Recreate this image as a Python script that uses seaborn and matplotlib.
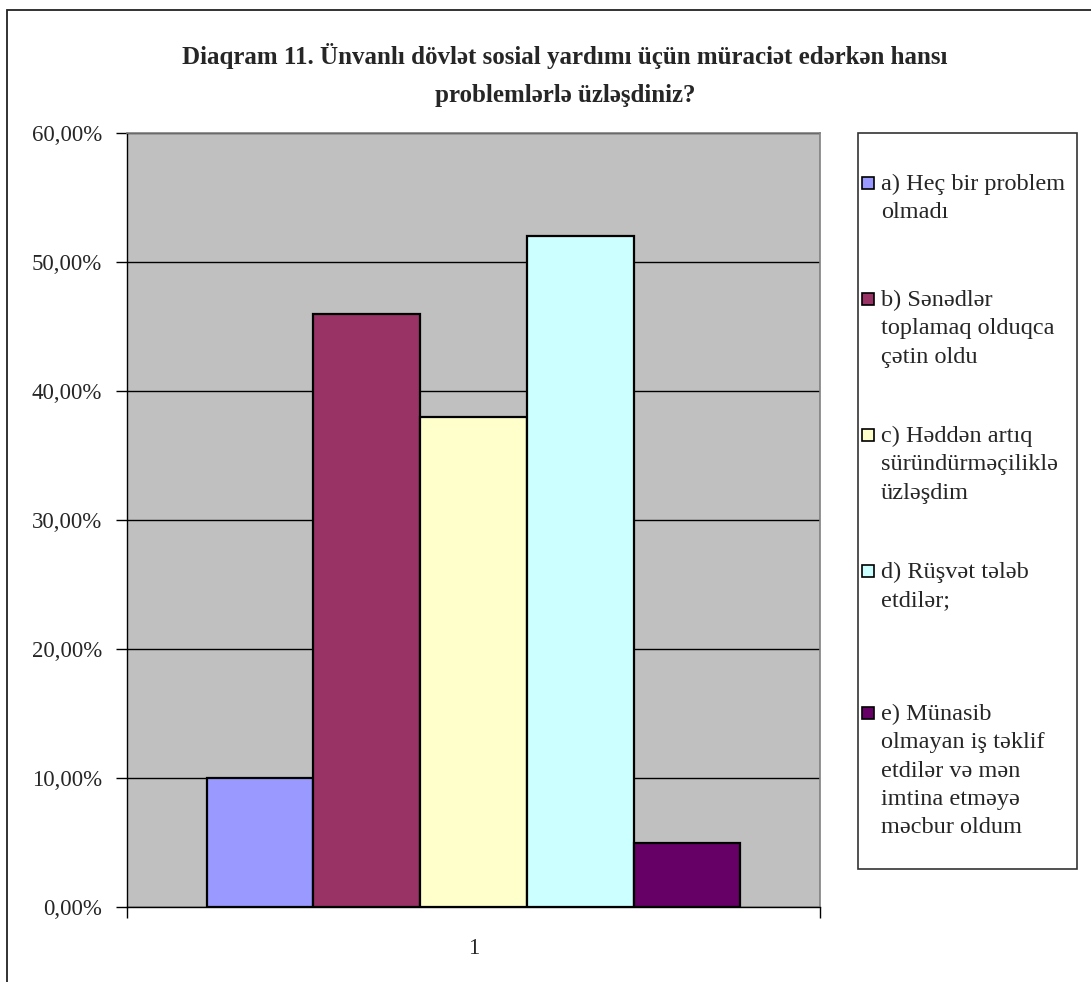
import matplotlib
matplotlib.use("Agg")
import matplotlib.pyplot as plt
from matplotlib.patches import Rectangle
from matplotlib.ticker import FuncFormatter, FixedLocator
import seaborn as sns
import pandas as pd

# Survey answers (share of respondents, %)
categories = ["1"]
answers = [
    "a) Heç bir problem\nolmadı",
    "b) Sənədlər\ntoplamaq olduqca\nçətin oldu",
    "c) Həddən artıq\nsüründürməçiliklə\nüzləşdim",
    "d) Rüşvət tələb\netdilər;",
    "e) Münasib\nolmayan iş təklif\netdilər və mən\nimtina etməyə\nməcbur oldum",
]
shares = [10.0, 46.0, 38.0, 52.0, 5.0]
colors = ["#9999FF", "#993366", "#FFFFCC", "#CCFFFF", "#660066"]
y_ticks = [0, 10, 20, 30, 40, 50, 60]
title = ("Diaqram 11. Ünvanlı dövlət sosial yardımı üçün müraciət edərkən hansı\n"
         "problemlərlə üzləşdiniz?")

df = pd.DataFrame({
    "cat": categories * len(answers),
    "answer": answers,
    "share": shares,
})

sns.set_theme(style="white")
plt.rcParams["font.family"] = ["Liberation Serif", "DejaVu Serif"]

W, H = 1091, 982
fig = plt.figure(figsize=(W / 100, H / 100), dpi=100)
fig.patch.set_facecolor("white")

# outer chart frame (left and top edges visible)
fig.add_artist(Rectangle((7 / W, -0.2), 1.5, 1.2 - 10 / H, transform=fig.transFigure,
                         fill=False, edgecolor="#222222", linewidth=1.3))

ax = fig.add_axes([127 / W, 1 - 907 / H, (820 - 127) / W, (907 - 133) / H])
ax.set_facecolor("#C0C0C0")

sns.barplot(data=df, x="cat", y="share", hue="answer", hue_order=answers,
            palette=colors, saturation=1, width=0.77, edgecolor="black",
            linewidth=1.6, legend=False, ax=ax, zorder=3)

ax.set_xlim(-0.5, 0.5)
ax.set_ylim(0, 60)
ax.set_yticks(y_ticks)
ax.yaxis.set_major_formatter(FuncFormatter(lambda v, p: f"{v:.2f}%".replace(".", ",")))
ax.yaxis.grid(True, color="black", linewidth=1.0, zorder=1)
ax.set_axisbelow(True)
ax.set_xlabel("")
ax.set_ylabel("")

ax.tick_params(axis="y", which="major", direction="out", length=8, width=1,
               color="black", labelsize=16.5, pad=10, left=True)
ax.set_xticks([0])
ax.set_xticklabels(categories)
ax.tick_params(axis="x", which="major", length=0, labelsize=16.5, pad=22)
ax.xaxis.set_minor_locator(FixedLocator([-0.5, 0.5]))
ax.tick_params(axis="x", which="minor", direction="out", length=8, width=1,
               color="black", bottom=True)

for side in ["top", "right"]:
    ax.spines[side].set_color("#808080")
    ax.spines[side].set_linewidth(1.2)
for side in ["left", "bottom"]:
    ax.spines[side].set_color("black")
    ax.spines[side].set_linewidth(1.0)

fig.text(565 / W, 1 - 75 / H, title, ha="center", va="center",
         fontsize=18, fontweight="bold", linespacing=1.85)

# legend panel
lx0, lx1, ly0, ly1 = 858, 1077, 133, 869
fig.add_artist(Rectangle((lx0 / W, 1 - ly1 / H), (lx1 - lx0) / W, (ly1 - ly0) / H,
                         transform=fig.transFigure, facecolor="white",
                         edgecolor="#333333", linewidth=1.2))
entry_rows = [183, 299, 435, 571, 713]
for label, col, yc in zip(answers, colors, entry_rows):
    fig.add_artist(Rectangle((862 / W, 1 - (yc + 6) / H), 12 / W, 12 / H,
                             transform=fig.transFigure, facecolor=col,
                             edgecolor="black", linewidth=1.2))
    fig.text(881 / W, 1 - (yc - 9) / H, label, ha="left", va="top",
             fontsize=17.5, linespacing=1.45)

fig.savefig("out.png", dpi=100)
